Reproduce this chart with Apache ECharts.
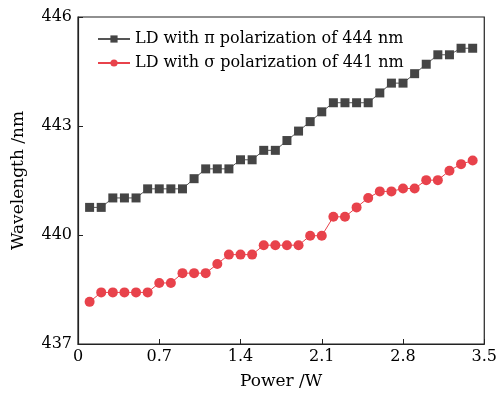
<!DOCTYPE html>
<html><head><meta charset="utf-8">
<script src="https://cdn.jsdelivr.net/npm/echarts@6/dist/echarts.min.js"></script>
<style>html,body{margin:0;padding:0;background:#fff}#c{width:500px;height:395px}</style>
</head><body><div id="c"></div>
<script>
const power = [0.1,0.2,0.3,0.4,0.5,0.6,0.7,0.8,0.9,1.0,1.1,1.2,1.3,1.4,1.5,1.6,1.7,1.8,1.9,2.0,2.1,2.2,2.3,2.4,2.5,2.6,2.7,2.8,2.9,3.0,3.1,3.2,3.3,3.4];
const piSeries = [440.76,440.76,441.02,441.02,441.02,441.27,441.27,441.27,441.27,441.55,441.82,441.82,441.82,442.07,442.07,442.33,442.33,442.60,442.86,443.12,443.39,443.64,443.64,443.64,443.64,443.91,444.18,444.18,444.44,444.70,444.96,444.96,445.14,445.14];
const sigmaSeries = [438.16,438.42,438.42,438.42,438.42,438.42,438.68,438.68,438.95,438.95,438.95,439.20,439.46,439.46,439.46,439.72,439.72,439.72,439.72,439.98,439.98,440.50,440.50,440.76,441.02,441.20,441.20,441.28,441.28,441.51,441.51,441.77,441.95,442.05];
const xTicks = [0,0.7,1.4,2.1,2.8,3.5];
const yTicks = [437,440,443,446];
const names = ['LD with π polarization of 444 nm','LD with σ polarization of 441 nm'];

const font = 'DejaVu Serif, Liberation Serif, serif';
const chart = echarts.init(document.getElementById('c'), null, {renderer:'canvas'});
chart.setOption({
  animation:false,
  grid:{left:78,right:15,top:17,bottom:50,show:true,borderColor:'#222',borderWidth:1.2,backgroundColor:'transparent'},
  legend:{
    orient:'vertical',left:92,top:26,itemGap:8,itemWidth:32,itemHeight:9,
    textStyle:{fontFamily:font,fontSize:16,color:'#000'},
    data:names
  },
  xAxis:{
    type:'value',min:0,max:3.5,
    name:'Power /W',nameLocation:'middle',nameGap:29,
    nameTextStyle:{fontFamily:font,fontSize:17,color:'#000'},
    axisLine:{show:true,lineStyle:{color:'#222',width:1.2}},
    axisTick:{show:true,inside:true,length:5,customValues:xTicks,lineStyle:{color:'#222'}},
    axisLabel:{customValues:xTicks,fontFamily:font,fontSize:16,color:'#000',margin:5,
      formatter:v=>String(Math.round(v*10)/10)},
    splitLine:{show:false}
  },
  yAxis:{
    type:'value',min:437,max:446,
    name:'Wavelength /nm',nameLocation:'middle',nameGap:51,
    nameTextStyle:{fontFamily:font,fontSize:17,color:'#000'},
    axisLine:{show:true,lineStyle:{color:'#222',width:1.2}},
    axisTick:{show:true,inside:true,length:5,customValues:yTicks,lineStyle:{color:'#222'}},
    axisLabel:{customValues:yTicks,fontFamily:font,fontSize:16,color:'#000',margin:6},
    splitLine:{show:false}
  },
  series:[
    {name:names[0],type:'line',data:power.map((x,i)=>[x,piSeries[i]]),
     symbol:'rect',symbolSize:9,itemStyle:{color:'#454545'},lineStyle:{color:'#555',width:1}},
    {name:names[1],type:'line',data:power.map((x,i)=>[x,sigmaSeries[i]]),
     symbol:'circle',symbolSize:10,itemStyle:{color:'#e8424b'},lineStyle:{color:'#e8424b',width:1}}
  ]
});
</script></body></html>
